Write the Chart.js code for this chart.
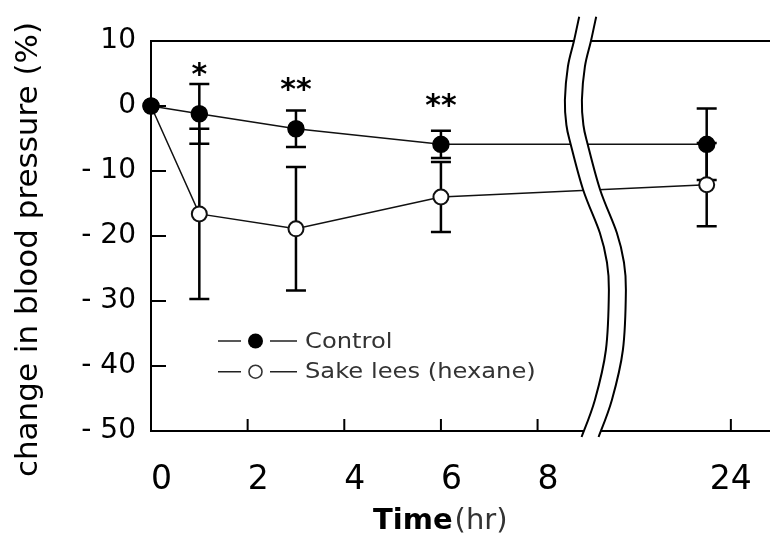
<!DOCTYPE html>
<html><head><meta charset="utf-8">
<script src="https://cdn.jsdelivr.net/npm/chart.js@4"></script>
<style>html,body{margin:0;padding:0;background:#fff;} canvas{display:block;}</style>
</head><body>
<canvas id="c" width="770" height="537"></canvas>
<script>
// ---- data ----
const hours       = [0, 1, 3, 6, 23];
const controlMean = [0, -1.2, -3.5, -5.9, -5.9];
const controlSD   = [0, 4.6, 2.8, 2.1, 5.5];
const sakeMean    = [0, -16.6, -18.9, -14.0, -12.1];
const sakeSD      = [0, 13.1, 9.5, 5.4, 6.4];
const sigMarks    = ['', '*', '**', '**', ''];
const xTickHours  = [0, 2, 4, 6, 8, 24];
const seriesNames = ['Control', 'Sake lees (hexane)'];
const yTitle = 'change in blood pressure (%)';
const xTitleMain = 'Time';
const xTitleUnit = '(hr)';

// broken time axis: linear up to 8 h, then compressed segment ending at 24 h
const BREAK_AFTER = 8;
function hourToAxis(h){ return h <= BREAK_AFTER ? h : 12 + (h - 24) * 0.5; }
const BREAK_AT = 9;  // axis position of the break symbol

const FONT = "'DejaVu Sans', sans-serif";

function smoothPath(ctx, pts, move){
  if (move) ctx.moveTo(pts[0][0], pts[0][1]); else ctx.lineTo(pts[0][0], pts[0][1]);
  for (let i = 0; i < pts.length - 1; i++){
    const p0 = pts[i-1] || pts[i], p1 = pts[i], p2 = pts[i+1], p3 = pts[i+2] || p2;
    ctx.bezierCurveTo(p1[0] + (p2[0]-p0[0])/6, p1[1] + (p2[1]-p0[1])/6,
                      p2[0] - (p3[0]-p1[0])/6, p2[1] - (p3[1]-p1[1])/6, p2[0], p2[1]);
  }
}

const errorBars = {
  id: 'errorBars',
  beforeDatasetsDraw(chart){
    const {ctx, scales: {x, y}} = chart;
    ctx.save();
    ctx.strokeStyle = '#000'; ctx.lineWidth = 2.5;
    chart.data.datasets.forEach(ds => {
      ds.data.forEach((p, i) => {
        const sd = ds.sd[i]; if (!sd) return;
        const px = x.getPixelForValue(p.x);
        const top = y.getPixelForValue(p.y + sd), bot = y.getPixelForValue(p.y - sd);
        ctx.beginPath();
        ctx.moveTo(px, top); ctx.lineTo(px, bot);
        ctx.moveTo(px - 10, top); ctx.lineTo(px + 10, top);
        ctx.moveTo(px - 10, bot); ctx.lineTo(px + 10, bot);
        ctx.stroke();
      });
    });
    ctx.restore();
  }
};

const decorations = {
  id: 'decorations',
  afterDraw(chart){
    const {ctx, chartArea: ca, scales: {x, y}} = chart;
    ctx.save();
    ctx.strokeStyle = '#000'; ctx.fillStyle = '#000';
    // top frame line
    ctx.lineWidth = 2;
    ctx.beginPath(); ctx.moveTo(ca.left, ca.top); ctx.lineTo(ca.right, ca.top); ctx.stroke();
    // inward tick marks
    ctx.beginPath();
    xTickHours.forEach(h => {
      if (h === 0) return;
      const px = x.getPixelForValue(hourToAxis(h));
      ctx.moveTo(px, ca.bottom); ctx.lineTo(px, ca.bottom - 12);
    });
    y.ticks.forEach(t => {
      if (t.value <= y.min || t.value >= y.max) return;
      const py = y.getPixelForValue(t.value);
      ctx.moveTo(ca.left, py); ctx.lineTo(ca.left + 15, py);
    });
    ctx.stroke();
    // x tick labels
    ctx.font = '33px ' + FONT; ctx.textBaseline = 'alphabetic';
    xTickHours.forEach(h => {
      const px = x.getPixelForValue(hourToAxis(h));
      ctx.textAlign = h > BREAK_AFTER ? 'center' : 'left';
      ctx.fillText(String(h), px, ca.bottom + 58);
    });
    // significance marks
    ctx.font = 'bold 30px ' + FONT; ctx.textAlign = 'center';
    sigMarks.forEach((s, i) => {
      if (!s) return;
      const m = ctx.measureText(s);
      const cy = y.getPixelForValue(controlMean[i]) - 44;
      const base = cy + (m.actualBoundingBoxAscent - m.actualBoundingBoxDescent) / 2;
      ctx.fillText(s, x.getPixelForValue(hourToAxis(hours[i])), base);
    });
    // y title
    ctx.save();
    ctx.translate(37, 249.5); ctx.rotate(-Math.PI / 2);
    ctx.font = '31px ' + FONT; ctx.textAlign = 'center'; ctx.textBaseline = 'alphabetic';
    ctx.fillText(yTitle, 0, 0);
    ctx.restore();
    // x title
    ctx.textAlign = 'left'; ctx.textBaseline = 'alphabetic';
    ctx.font = 'bold 29px ' + FONT;
    ctx.fillText(xTitleMain, 373, 529);
    const w = ctx.measureText(xTitleMain).width;
    ctx.font = '29px ' + FONT; ctx.fillStyle = '#333';
    ctx.fillText(xTitleUnit, 373 + w + 2, 529);
    // legend
    const rows = [{cy: 341, base: 348.3, filled: true}, {cy: 371.7, base: 378.3, filled: false}];
    rows.forEach((r, i) => {
      ctx.strokeStyle = '#222'; ctx.lineWidth = 1.5;
      ctx.beginPath();
      ctx.moveTo(218, r.cy); ctx.lineTo(241, r.cy);
      ctx.moveTo(270, r.cy); ctx.lineTo(297, r.cy);
      ctx.stroke();
      ctx.beginPath();
      if (r.filled){ ctx.arc(255.5, r.cy, 7.5, 0, Math.PI*2); ctx.fillStyle = '#000'; ctx.fill(); }
      else { ctx.arc(255.5, r.cy, 6.5, 0, Math.PI*2); ctx.fillStyle = '#fff'; ctx.fill(); ctx.lineWidth = 1.6; ctx.strokeStyle = '#333'; ctx.stroke(); }
      ctx.save();
      ctx.translate(305, r.base); ctx.scale(1.1, 1);
      ctx.font = '22px ' + FONT; ctx.fillStyle = '#333'; ctx.textAlign = 'left';
      ctx.fillText(seriesNames[i], 0, 0);
      ctx.restore();
    });
    // axis break symbol
    const ax = x.getPixelForValue(BREAK_AT), ay = ca.top;
    const shape = [[-6.7,-24.3],[-12,0.3],[-18,25.7],[-21,59],[-19.5,84],[-15.3,103],[-2.7,149],[14,192],[21,221],[23,249],[20,309],[9,359],[-4.3,396]];
    const L = shape.map(p => [ax + p[0], ay + p[1]]);
    const R = shape.map(p => [ax + p[0] + 17, ay + p[1]]);
    ctx.beginPath();
    smoothPath(ctx, L, true);
    smoothPath(ctx, R.slice().reverse(), false);
    ctx.closePath();
    ctx.fillStyle = '#fff'; ctx.fill();
    ctx.strokeStyle = '#000'; ctx.lineWidth = 2;
    ctx.beginPath(); smoothPath(ctx, L, true); ctx.stroke();
    ctx.beginPath(); smoothPath(ctx, R, true); ctx.stroke();
    ctx.restore();
  }
};

new Chart(document.getElementById('c'), {
  type: 'line',
  data: {
    datasets: [
      { label: seriesNames[0], data: hours.map((h, i) => ({x: hourToAxis(h), y: controlMean[i]})), sd: controlSD,
        borderColor: '#111', borderWidth: 1.5, tension: 0, clip: false,
        pointRadius: 8, pointBorderWidth: 1.5, pointBackgroundColor: '#000', pointBorderColor: '#000' },
      { label: seriesNames[1], data: hours.map((h, i) => ({x: hourToAxis(h), y: sakeMean[i]})), sd: sakeSD,
        borderColor: '#111', borderWidth: 1.5, tension: 0, clip: false,
        pointRadius: 7.5, pointBorderWidth: 2, pointBackgroundColor: '#fff', pointBorderColor: '#111' }
    ]
  },
  options: {
    responsive: false, animation: false, devicePixelRatio: 1,
    layout: {autoPadding: false, padding: {top: 41, left: 0, right: 0, bottom: 0}},
    plugins: {legend: {display: false}, tooltip: {enabled: false}},
    scales: {
      x: {type: 'linear', min: 0, max: 12.81,
          grid: {display: false, drawTicks: false},
          border: {display: true, color: '#000', width: 2},
          ticks: {display: false},
          afterFit(s){ s.height = 106; }},
      y: {min: -50, max: 10,
          ticks: {stepSize: 10, color: '#000', font: {family: FONT, size: 28}, padding: 15,
                  callback: v => v < 0 ? '- ' + Math.abs(v) : String(v)},
          grid: {display: false, drawTicks: false},
          border: {display: true, color: '#000', width: 2},
          afterFit(s){ s.width = 151; }}
    }
  },
  plugins: [errorBars, decorations]
});
</script>
</body></html>
